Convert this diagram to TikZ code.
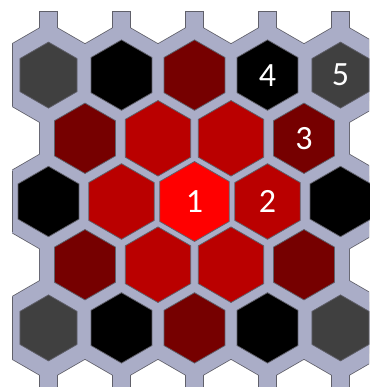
\documentclass[tikz,border=0pt]{standalone}
\usepackage{fontspec}
\setmainfont{Carlito}
\usetikzlibrary{shapes.geometric}

\definecolor{wallfill}{RGB}{170,173,199}
\definecolor{wallline}{RGB}{96,96,106}
\definecolor{cellgray}{RGB}{64,64,64}
\definecolor{cellblack}{RGB}{0,0,0}
\definecolor{celldark}{RGB}{118,0,0}
\definecolor{cellred}{RGB}{186,0,0}
\definecolor{cellcore}{RGB}{255,0,0}

\tikzset{
	wallrim/.style={line width=18.6pt, line join=miter, draw=wallline},
	wall/.style={line width=17pt, line join=miter, draw=wallfill},
	hexcell/.style={regular polygon, regular polygon sides=6, shape border rotate=90, draw=wallline, line width=0.75pt, inner sep=0pt, text=white, font=\fontsize{34}{34}\selectfont}
}

% one pass over the 23 grid cells, #1 = style of the hexagon path
\newcommand{\honeycomb}[1]{%
	\foreach \r in {1,...,5} {
		\pgfmathtruncatemacro\last{mod(\r,2)==1 ? 4 : 3}
		\foreach \k in {0,...,\last} {
			\pgfmathsetmacro\cx{48.5+73*\k+36.5*(1-mod(\r,2))}
			\pgfmathsetmacro\cy{75.1+63.2*(\r-1)}
			\path[#1] (\cx,\cy) +(30:42.15) -- +(90:42.15) -- +(150:42.15) -- +(210:42.15) -- +(270:42.15) -- +(330:42.15) -- cycle;
		}
	}}

\begin{document}
\begin{tikzpicture}[x=1pt, y=-1pt]
	\useasboundingbox (0,0) rectangle (369,387);
	% lavender walls
	\begin{scope}
		\clip (12,10) rectangle (369,387);
		\honeycomb{wallrim}
		\foreach \k in {0,...,4} {
			\draw[wallrim] (48.5+73*\k,10.9) -- (48.5+73*\k,33);
			\draw[wallrim] (48.5+73*\k,370) -- (48.5+73*\k,392);
		}
		\honeycomb{wall, fill=wallfill}
		\foreach \k in {0,...,4} {
			\draw[wall] (48.5+73*\k,11.7) -- (48.5+73*\k,33);
			\draw[wall] (48.5+73*\k,370) -- (48.5+73*\k,392);
		}
	\end{scope}
	\foreach \r in {1,3,5}
		\draw[wallline, line width=0.8pt] (12.4,44.2+63.2*\r-63.2) -- (12.4,106+63.2*\r-63.2);
	% coloured cells
	\foreach \r/\k/\shade/\sz/\txt in {
		1/0/cellgray/66/{}, 1/1/cellblack/70.4/{}, 1/2/celldark/70.4/{}, 1/3/cellblack/70.4/4, 1/4/cellgray/66/5,
		2/0/celldark/70.4/{}, 2/1/cellred/75.6/{}, 2/2/cellred/75.6/{}, 2/3/celldark/70.4/3,
		3/0/cellblack/70.4/{}, 3/1/cellred/75.6/{}, 3/2/cellcore/80/1, 3/3/cellred/75.6/2, 3/4/cellblack/70.4/{},
		4/0/celldark/70.4/{}, 4/1/cellred/75.6/{}, 4/2/cellred/75.6/{}, 4/3/celldark/70.4/{},
		5/0/cellgray/66/{}, 5/1/cellblack/70.4/{}, 5/2/celldark/70.4/{}, 5/3/cellblack/70.4/{}, 5/4/cellgray/66/{}} {
		\pgfmathsetmacro\cx{48.5+73*\k+36.5*(1-mod(\r,2))}
		\pgfmathsetmacro\cy{75.1+63.2*(\r-1)}
		\node[hexcell, fill=\shade, minimum size=\sz pt] (h-\r-\k) at (\cx,\cy) {\txt};
	}
\end{tikzpicture}
\end{document}
